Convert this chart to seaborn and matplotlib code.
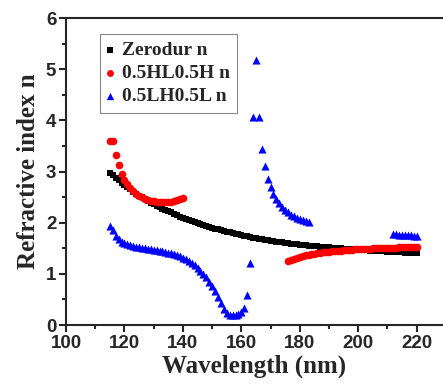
import numpy as np
import pandas as pd
import matplotlib
matplotlib.use("Agg")
import matplotlib.pyplot as plt
from matplotlib.ticker import MultipleLocator
import seaborn as sns

# values (1 nm steps)
wl_zerodur = list(range(115, 221))
n_zerodur = [2.98, 2.93, 2.88, 2.83, 2.78, 2.74, 2.70, 2.65, 2.61, 2.57,
             2.53, 2.50, 2.46, 2.43, 2.39, 2.36, 2.33, 2.30, 2.27, 2.25,
             2.22, 2.20, 2.17, 2.15, 2.12, 2.10, 2.08, 2.05, 2.03, 2.01,
             1.99, 1.97, 1.95, 1.93, 1.92, 1.90, 1.88, 1.87, 1.85, 1.84,
             1.82, 1.81, 1.80, 1.78, 1.77, 1.76, 1.75, 1.74, 1.72, 1.71,
             1.70, 1.69, 1.68, 1.67, 1.66, 1.65, 1.64, 1.63, 1.63, 1.62,
             1.61, 1.60, 1.59, 1.59, 1.58, 1.57, 1.56, 1.56, 1.55, 1.55,
             1.54, 1.54, 1.53, 1.53, 1.52, 1.52, 1.51, 1.51, 1.50, 1.50,
             1.49, 1.49, 1.48, 1.48, 1.47, 1.47, 1.47, 1.46, 1.46, 1.45,
             1.45, 1.45, 1.44, 1.44, 1.44, 1.43, 1.43, 1.43, 1.42, 1.42,
             1.42, 1.41, 1.41, 1.41, 1.40, 1.40]

wl_hlh = list(range(115, 141)) + list(range(176, 221))
n_hlh = [3.60, 3.60, 3.33, 3.12, 2.96, 2.84, 2.75, 2.68, 2.62, 2.57,
         2.53, 2.50, 2.47, 2.45, 2.43, 2.42, 2.41, 2.40, 2.40, 2.40,
         2.40, 2.41, 2.42, 2.44, 2.46, 2.49,
         1.25, 1.28, 1.30, 1.32, 1.33, 1.35, 1.36, 1.37, 1.38, 1.39,
         1.40, 1.41, 1.42, 1.43, 1.43, 1.44, 1.44, 1.45, 1.45, 1.46,
         1.46, 1.47, 1.47, 1.48, 1.48, 1.48, 1.49, 1.49, 1.49, 1.50,
         1.50, 1.50, 1.50, 1.51, 1.51, 1.51, 1.51, 1.51, 1.52, 1.52,
         1.52, 1.52, 1.52, 1.52, 1.52]

wl_lhl = list(range(115, 184)) + list(range(212, 221))
n_lhl = [1.93, 1.85, 1.75, 1.68, 1.63, 1.60, 1.58, 1.56, 1.54, 1.53,
         1.52, 1.51, 1.50, 1.49, 1.48, 1.47, 1.46, 1.45, 1.44, 1.42,
         1.41, 1.40, 1.38, 1.36, 1.34, 1.32, 1.29, 1.26, 1.22, 1.17,
         1.12, 1.06, 1.00, 0.93, 0.85, 0.76, 0.66, 0.55, 0.43, 0.32,
         0.24, 0.20, 0.19, 0.19, 0.21, 0.25, 0.33, 0.58, 1.21,
         4.06, 5.19, 4.07, 3.45, 3.11, 2.86, 2.69, 2.57, 2.46, 2.38,
         2.31, 2.25, 2.20, 2.16, 2.13, 2.10, 2.08, 2.06, 2.04, 2.02,
         1.77, 1.77, 1.76, 1.76, 1.76, 1.76, 1.76, 1.75, 1.75]

zerodur = pd.DataFrame({'wl': wl_zerodur, 'n': n_zerodur})
hlh = pd.DataFrame({'wl': wl_hlh, 'n': n_hlh})
lhl = pd.DataFrame({'wl': wl_lhl, 'n': n_lhl})

sns.set_style("ticks")

fig = plt.figure(figsize=(4.43, 3.86), dpi=100)
ax = fig.add_axes([0.149, 0.158, 0.851, 0.795])

sns.scatterplot(data=zerodur, x='wl', y='n', marker='s', color='black',
                s=18, linewidth=0, label='Zerodur n', ax=ax)
sns.scatterplot(data=hlh, x='wl', y='n', marker='o', color='red',
                s=30, linewidth=0, label='0.5HL0.5H n', ax=ax)
sns.scatterplot(data=lhl, x='wl', y='n', marker='^', color='blue',
                s=34, linewidth=0, label='0.5LH0.5L n', ax=ax)

ax.set_xlim(100, 229)
ax.set_ylim(0, 6)
ax.xaxis.set_major_locator(MultipleLocator(20))
ax.xaxis.set_minor_locator(MultipleLocator(10))
ax.yaxis.set_major_locator(MultipleLocator(1))
ax.yaxis.set_minor_locator(MultipleLocator(0.5))
ax.tick_params(which='major', direction='out', length=5, width=1.5, pad=2)
ax.tick_params(which='minor', direction='out', length=3, width=1.5)
for lab in ax.get_xticklabels() + ax.get_yticklabels():
    lab.set_fontfamily('Liberation Sans')
    lab.set_fontweight('bold')
    lab.set_fontsize(13.5)

for side in ['left', 'bottom', 'top']:
    ax.spines[side].set_linewidth(1.5)
ax.spines['right'].set_visible(False)

ax.set_xlabel('Wavelength (nm)', fontfamily='Liberation Serif',
              fontweight='bold', fontsize=18, labelpad=2)
ax.set_ylabel('Refractive index n', fontfamily='Liberation Serif',
              fontweight='bold', fontsize=18, labelpad=4)

leg = ax.legend(loc='upper left', bbox_to_anchor=(0.09, 0.948),
                prop={'family': 'Liberation Serif', 'weight': 'bold', 'size': 14},
                fancybox=False, edgecolor='#888888', framealpha=1,
                handletextpad=0.45, borderpad=0.38, borderaxespad=0,
                labelspacing=0.28, handlelength=0.3, markerscale=0.9)
leg.get_frame().set_linewidth(0.8)

fig.savefig('out.png', dpi=100)
